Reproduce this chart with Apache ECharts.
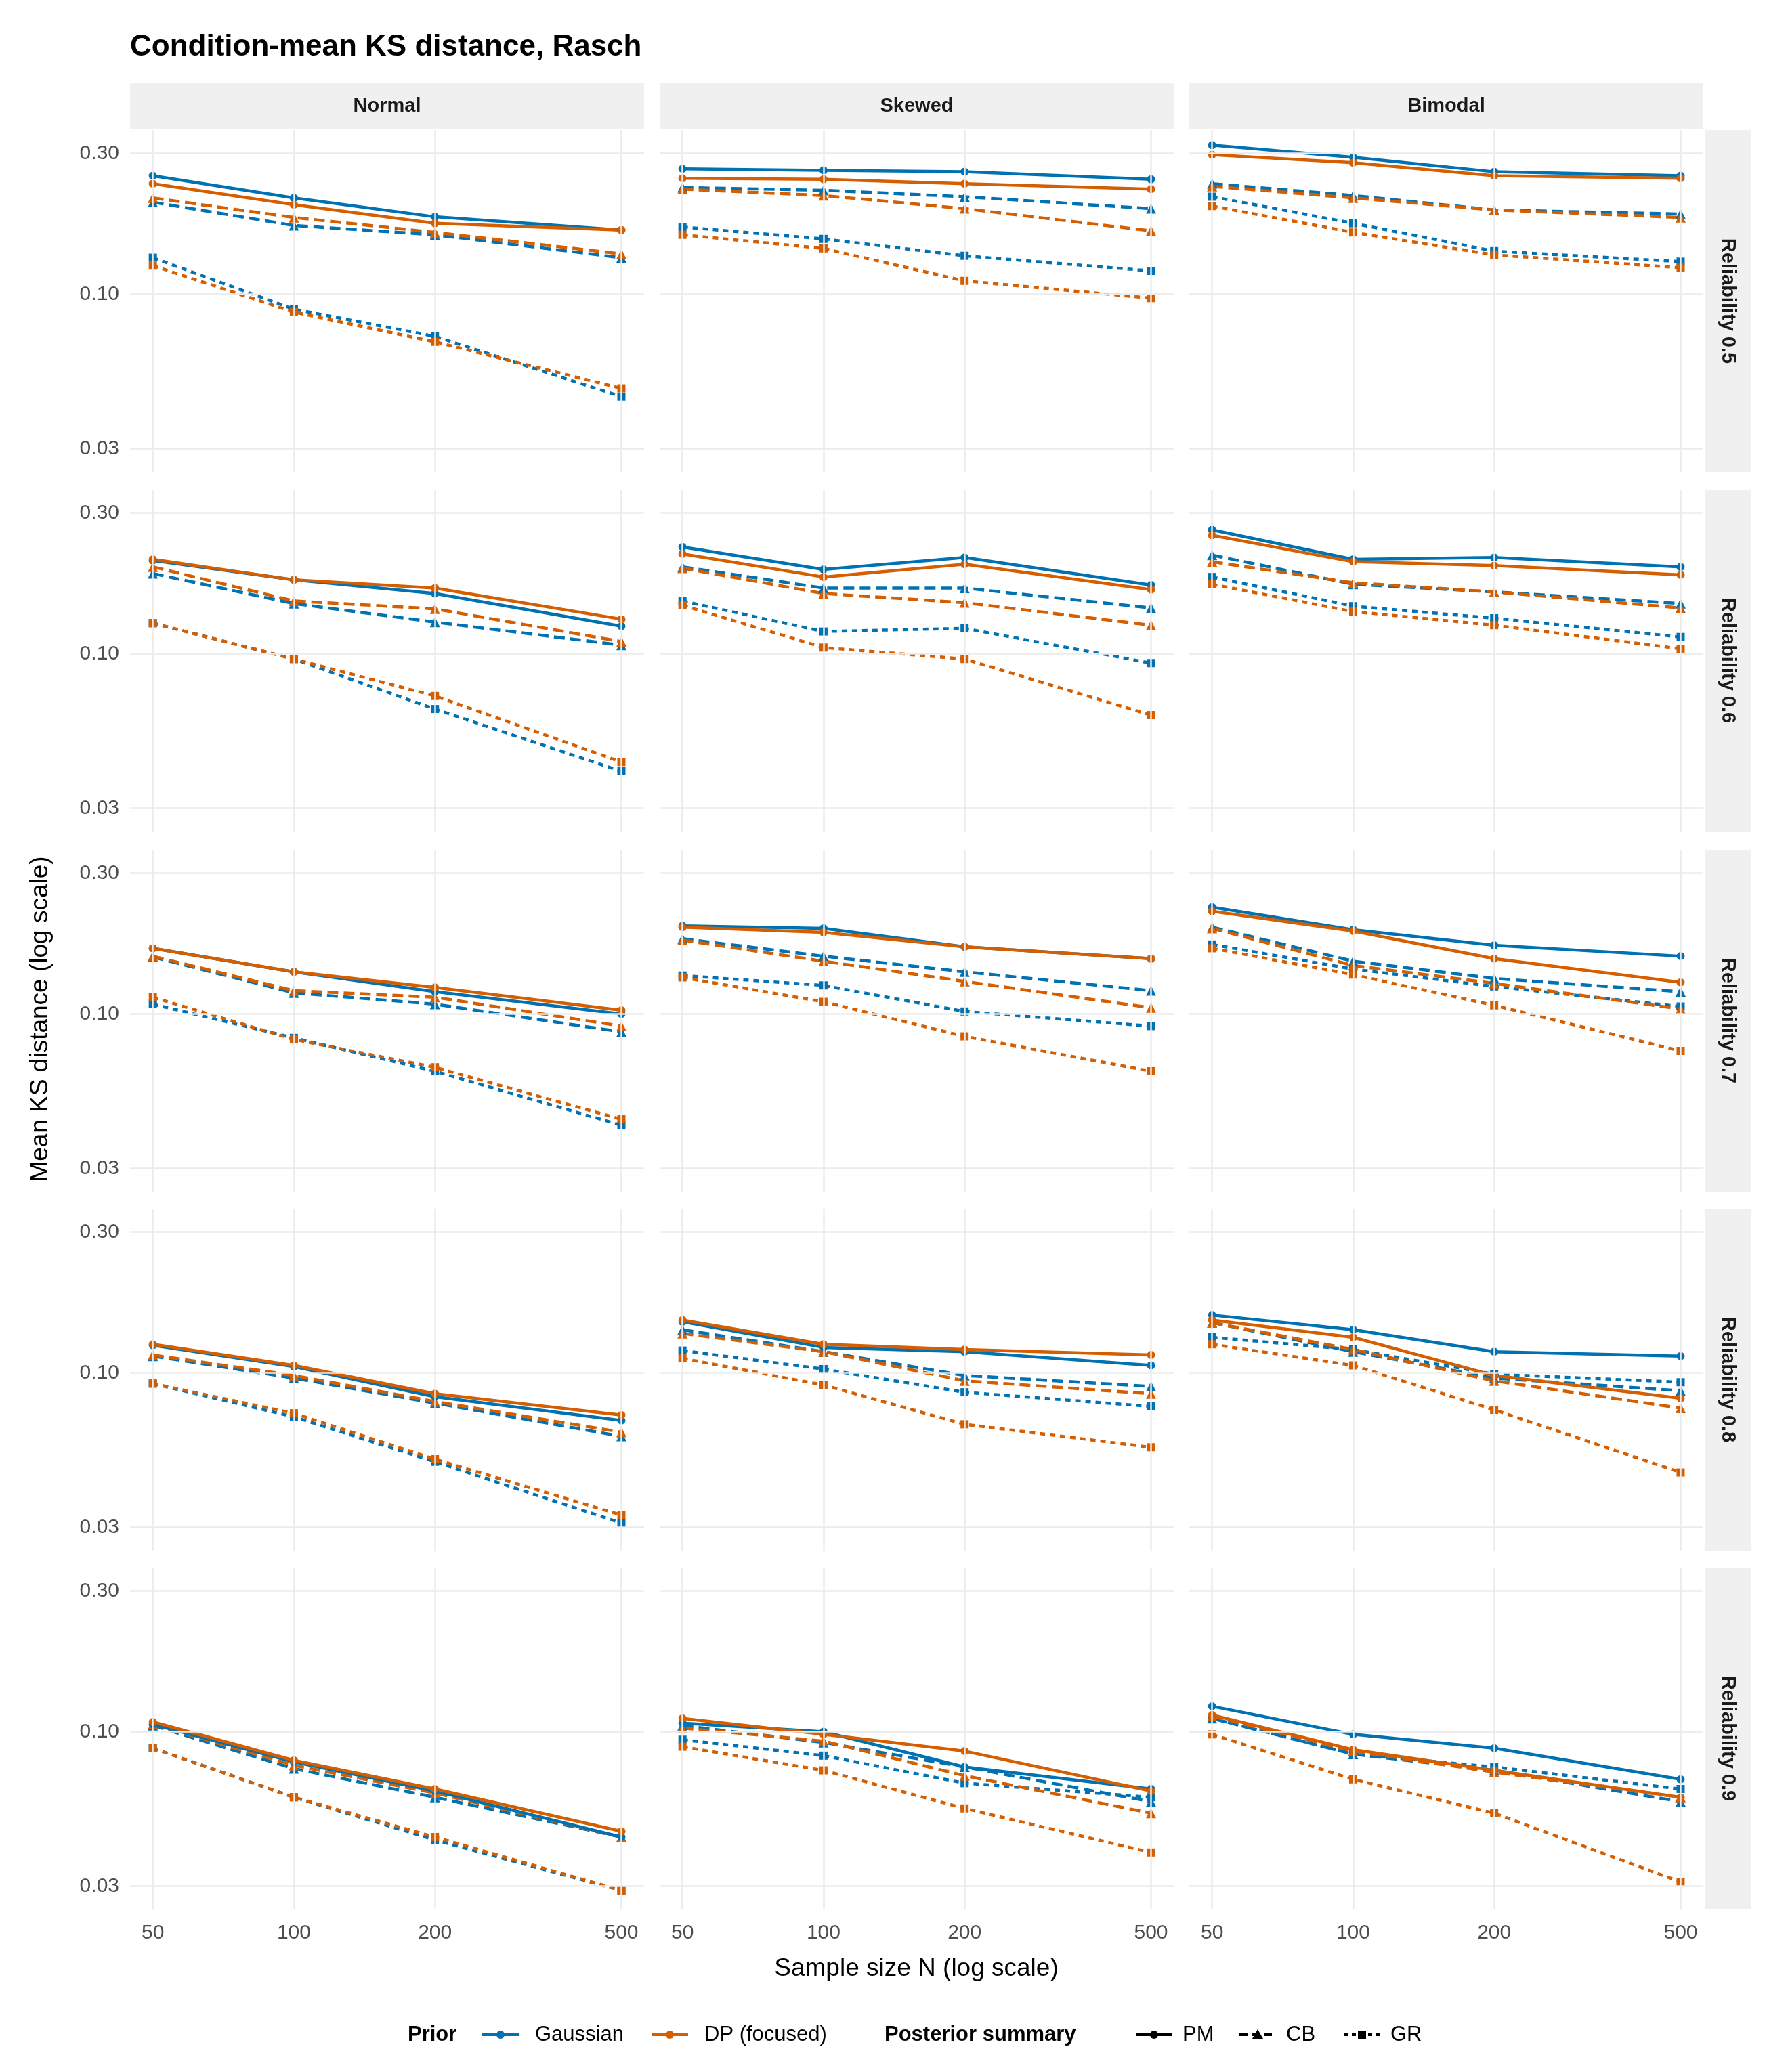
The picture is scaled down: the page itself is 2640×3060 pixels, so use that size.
<!DOCTYPE html>
<html><head><meta charset="utf-8">
<script src="https://cdn.jsdelivr.net/npm/echarts@6/dist/echarts.min.js"></script>
<style>html,body{margin:0;padding:0;background:#fff}#c{width:2640px;height:3060px}</style>
</head><body><div id="c"></div>
<script>
const sampleSizes=[50,100,200,500];
const distributions=['Normal','Skewed','Bimodal'];
const reliabilities=['Reliability 0.5','Reliability 0.6','Reliability 0.7','Reliability 0.8','Reliability 0.9'];
const yTicks=[0.03,0.1,0.3];
// [reliability][distribution][N]
const gaussPM=[
 [[0.252,0.212,0.183,0.165],[0.266,0.263,0.26,0.245],[0.32,0.291,0.26,0.252]],
 [[0.207,0.178,0.16,0.124],[0.23,0.193,0.212,0.171],[0.263,0.209,0.212,0.197]],
 [[0.167,0.139,0.119,0.1],[0.199,0.195,0.169,0.154],[0.23,0.193,0.171,0.157]],
 [[0.124,0.105,0.083,0.069],[0.149,0.122,0.118,0.106],[0.157,0.14,0.118,0.114]],
 [[0.106,0.079,0.063,0.044],[0.107,0.1,0.076,0.064],[0.122,0.098,0.088,0.069]]];
const dpPM=[
 [[0.237,0.201,0.174,0.165],[0.247,0.245,0.237,0.227],[0.297,0.279,0.252,0.247]],
 [[0.209,0.178,0.167,0.131],[0.218,0.182,0.201,0.165],[0.252,0.205,0.199,0.185]],
 [[0.167,0.139,0.123,0.103],[0.197,0.189,0.169,0.154],[0.223,0.191,0.154,0.128]],
 [[0.125,0.106,0.085,0.072],[0.151,0.125,0.12,0.115],[0.151,0.132,0.098,0.082]],
 [[0.108,0.08,0.064,0.046],[0.111,0.098,0.086,0.063],[0.114,0.087,0.074,0.06]]];
const gaussCB=[
 [[0.205,0.171,0.159,0.133],[0.23,0.225,0.214,0.195],[0.237,0.216,0.193,0.187]],
 [[0.187,0.148,0.128,0.107],[0.197,0.167,0.167,0.143],[0.216,0.172,0.162,0.148]],
 [[0.156,0.118,0.108,0.087],[0.18,0.157,0.139,0.12],[0.197,0.151,0.132,0.119]],
 [[0.114,0.096,0.079,0.061],[0.14,0.118,0.098,0.09],[0.148,0.118,0.096,0.087]],
 [[0.105,0.075,0.06,0.044],[0.105,0.092,0.076,0.058],[0.111,0.084,0.074,0.058]]];
const dpCB=[
 [[0.212,0.182,0.162,0.137],[0.227,0.216,0.195,0.164],[0.232,0.212,0.193,0.182]],
 [[0.197,0.151,0.142,0.11],[0.195,0.16,0.149,0.125],[0.205,0.174,0.162,0.143]],
 [[0.157,0.12,0.114,0.091],[0.178,0.151,0.129,0.105],[0.195,0.146,0.127,0.104]],
 [[0.115,0.098,0.08,0.063],[0.136,0.118,0.094,0.085],[0.148,0.12,0.094,0.076]],
 [[0.106,0.077,0.062,0.044],[0.103,0.093,0.071,0.053],[0.113,0.086,0.073,0.06]]];
const gaussGR=[
 [[0.133,0.089,0.072,0.045],[0.169,0.154,0.135,0.12],[0.214,0.174,0.14,0.129]],
 [[0.127,0.096,0.065,0.04],[0.151,0.119,0.122,0.093],[0.182,0.145,0.132,0.114]],
 [[0.108,0.083,0.064,0.042],[0.135,0.125,0.102,0.091],[0.172,0.142,0.124,0.106]],
 [[0.092,0.071,0.05,0.031],[0.119,0.103,0.086,0.077],[0.132,0.12,0.099,0.093]],
 [[0.088,0.06,0.043,0.029],[0.094,0.083,0.067,0.06],[0.111,0.084,0.076,0.064]]];
const dpGR=[
 [[0.125,0.087,0.069,0.048],[0.159,0.143,0.111,0.097],[0.199,0.162,0.136,0.123]],
 [[0.127,0.096,0.072,0.043],[0.146,0.105,0.096,0.062],[0.172,0.139,0.125,0.104]],
 [[0.114,0.082,0.066,0.044],[0.133,0.11,0.084,0.064],[0.167,0.136,0.107,0.075]],
 [[0.092,0.073,0.051,0.033],[0.112,0.091,0.067,0.056],[0.125,0.106,0.075,0.046]],
 [[0.088,0.06,0.044,0.029],[0.089,0.074,0.055,0.039],[0.098,0.069,0.053,0.031]]];

const BLUE='#0072B2', ORANGE='#D55E00';
const DOT=[8,7], DASH=[16,8];
const specs=[
 {d:gaussGR,c:BLUE,t:DOT,s:'rect'},{d:dpGR,c:ORANGE,t:DOT,s:'rect'},
 {d:gaussCB,c:BLUE,t:DASH,s:'triangle'},{d:dpCB,c:ORANGE,t:DASH,s:'triangle'},
 {d:gaussPM,c:BLUE,t:'solid',s:'circle'},{d:dpPM,c:ORANGE,t:'solid',s:'circle'}];
const colLeft=[192,974,1756], colW=759;
const rowTop=[192,723,1255,1785,2315], rowH=505;
const grids=[],xAxes=[],yAxes=[],series=[],graphics=[];
const font='Liberation Sans, Arial, sans-serif';
for(let r=0;r<5;r++)for(let c=0;c<3;c++){
 const i=grids.length;
 grids.push({left:colLeft[c],top:rowTop[r],width:colW,height:rowH});
 xAxes.push({type:'log',gridIndex:i,min:44.7,max:559,axisLine:{show:false},axisTick:{show:false},splitLine:{show:false},
  axisLabel:{show:r===4,customValues:sampleSizes,fontSize:30,color:'#4d4d4d',margin:20,fontFamily:font}});
 yAxes.push({type:'log',gridIndex:i,min:0.025,max:0.36,axisLine:{show:false},axisTick:{show:false},splitLine:{show:false},
  axisLabel:{show:c===0,customValues:yTicks,formatter:v=>v.toFixed(2),fontSize:30,color:'#4d4d4d',margin:16,fontFamily:font}});
 series.push({type:'line',xAxisIndex:i,yAxisIndex:i,data:[],silent:true,
  markLine:{silent:true,symbol:'none',label:{show:false},animation:false,lineStyle:{color:'#ebebeb',width:2.5,type:'solid'},
   data:sampleSizes.map(n=>({xAxis:n})).concat(yTicks.map(v=>({yAxis:v})))}});
 for(const sp of specs){
  series.push({type:'line',xAxisIndex:i,yAxisIndex:i,data:sampleSizes.map((n,k)=>[n,sp.d[r][c][k]]),
   symbol:sp.s,symbolSize:sp.s==='triangle'?15:12,showSymbol:true,animation:false,
   lineStyle:{color:sp.c,width:4.5,type:sp.t,cap:'butt'},itemStyle:{color:sp.c,borderWidth:0,opacity:1}});
 }
 if(r===0){
  graphics.push({type:'rect',shape:{x:colLeft[c],y:123,width:colW,height:67},style:{fill:'#f0f0f0'}});
  graphics.push({type:'text',x:colLeft[c]+colW/2,y:157,style:{text:distributions[c],font:'bold 29px '+font,fill:'#1a1a1a',textAlign:'center',textVerticalAlign:'middle'}});
 }
 if(c===2){
  graphics.push({type:'rect',shape:{x:2518,y:rowTop[r],width:67,height:rowH},style:{fill:'#f0f0f0'}});
  graphics.push({type:'text',x:2551,y:rowTop[r]+rowH/2,rotation:-Math.PI/2,style:{text:reliabilities[r],font:'bold 29px '+font,fill:'#1a1a1a',textAlign:'center',textVerticalAlign:'middle'}});
 }
}
graphics.push({type:'text',x:192,y:70,style:{text:'Condition-mean KS distance, Rasch',font:'bold 44px '+font,fill:'#000',textVerticalAlign:'middle'}});
graphics.push({type:'text',x:1353,y:2908,style:{text:'Sample size N (log scale)',font:'37px '+font,fill:'#000',textAlign:'center',textVerticalAlign:'middle'}});
graphics.push({type:'text',x:60,y:1505,rotation:Math.PI/2,style:{text:'Mean KS distance (log scale)',font:'37px '+font,fill:'#000',textAlign:'center',textVerticalAlign:'middle'}});
// legend
const ly=3005;
function key(x,color,dash,sym){
 graphics.push({type:'line',shape:{x1:x,y1:ly,x2:x+54,y2:ly},style:{stroke:color,lineWidth:4,lineDash:dash}});
 if(sym==='circle')graphics.push({type:'circle',shape:{cx:x+27,cy:ly,r:6},style:{fill:color}});
 if(sym==='triangle')graphics.push({type:'polygon',shape:{points:[[x+27,ly-8],[x+19,ly+6],[x+35,ly+6]]},style:{fill:color}});
 if(sym==='rect')graphics.push({type:'rect',shape:{x:x+21,y:ly-6,width:12,height:12},style:{fill:color}});
}
function txt(x,t,b){graphics.push({type:'text',x:x,y:ly,style:{text:t,font:(b?'bold ':'')+'31px '+font,fill:'#000',textVerticalAlign:'middle'}});}
txt(602,'Prior',true); key(712,BLUE,null,'circle'); txt(790,'Gaussian');
key(962,ORANGE,null,'circle'); txt(1040,'DP (focused)');
txt(1306,'Posterior summary',true); key(1677,'#000',null,'circle'); txt(1746,'PM');
key(1830,'#000',[12,6],'triangle'); txt(1899,'CB');
key(1984,'#000',[6,6],'rect'); txt(2053,'GR');
const chart=echarts.init(document.getElementById('c'),null,{renderer:'canvas'});
chart.setOption({backgroundColor:'#fff',animation:false,grid:grids,xAxis:xAxes,yAxis:yAxes,series:series,graphic:graphics});
</script></body></html>
